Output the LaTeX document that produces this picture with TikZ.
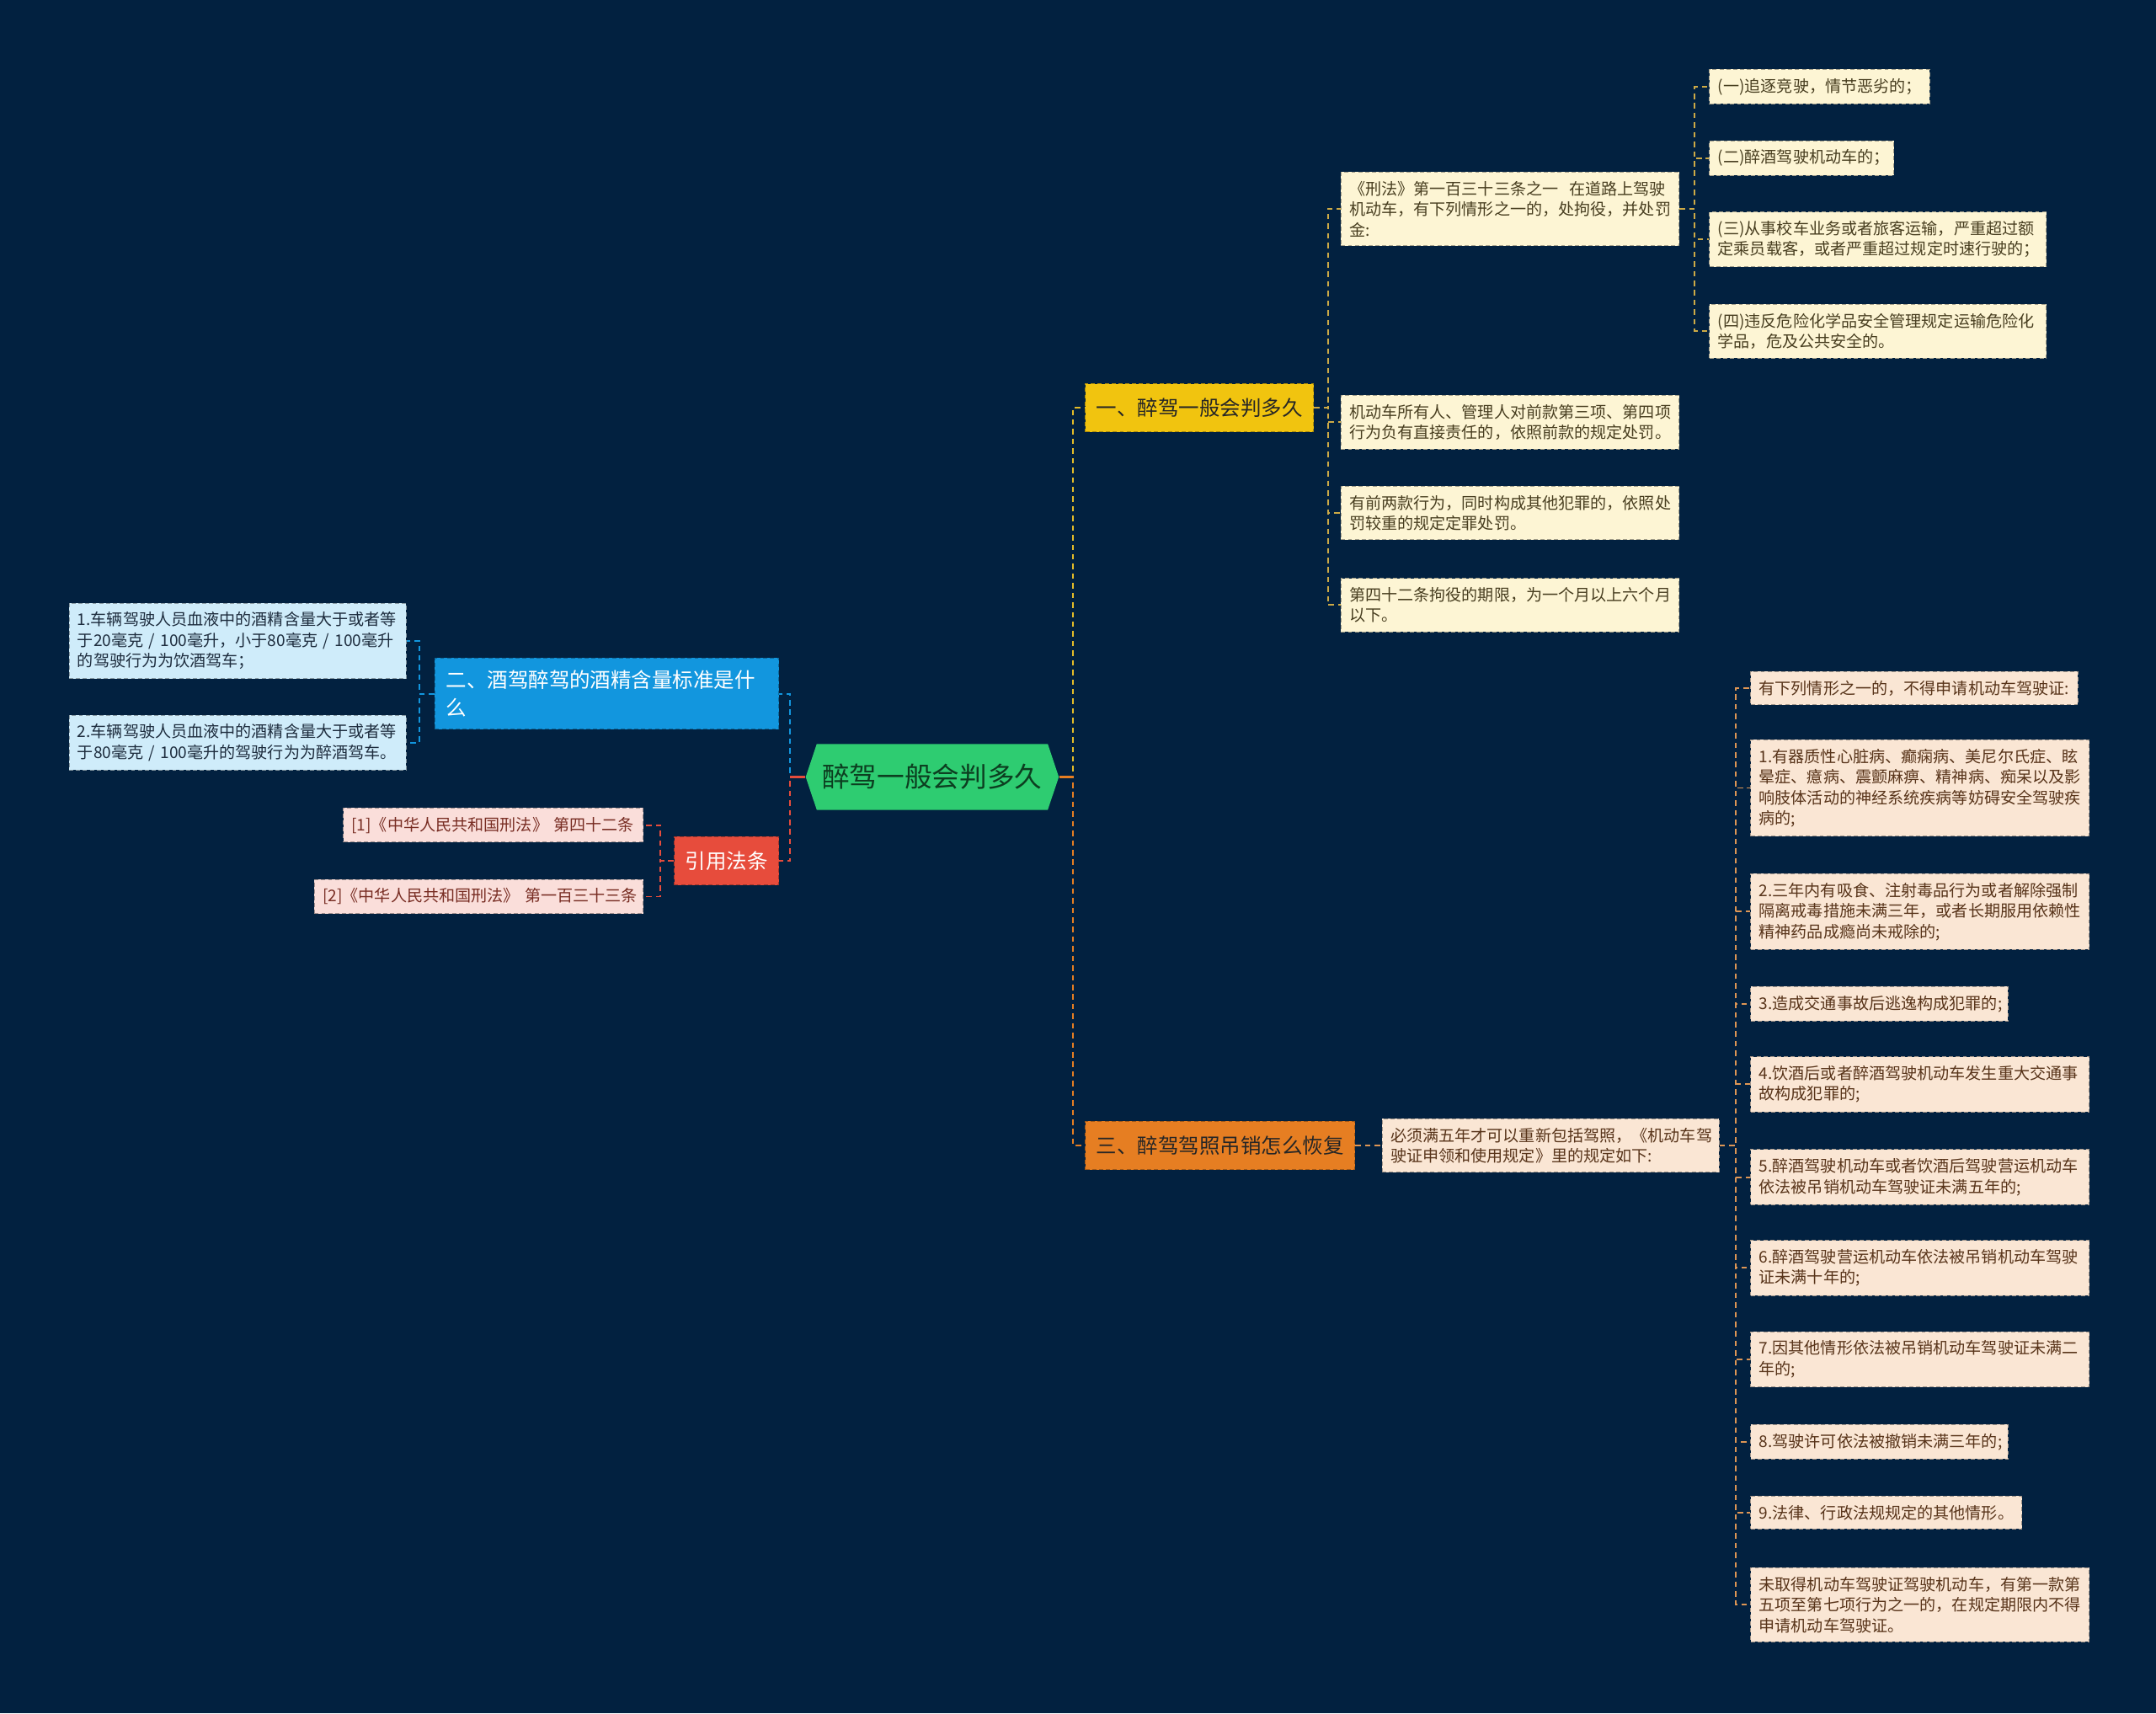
\documentclass[tikz,border=0pt]{standalone}
\usepackage{fontspec}
\setmainfont{Noto Sans CJK SC}
\usetikzlibrary{shapes.symbols}
\definecolor{bgNavy}{RGB}{2,33,64}
\definecolor{rootGreen}{RGB}{46,204,113}
\definecolor{rootText}{RGB}{12,62,32}
\definecolor{topYel}{RGB}{241,196,15}
\definecolor{topBlue}{RGB}{18,150,222}
\definecolor{topRed}{RGB}{231,76,60}
\definecolor{topOrg}{RGB}{230,126,34}
\definecolor{leafCream}{RGB}{253,245,212}
\definecolor{leafBlue}{RGB}{207,236,250}
\definecolor{leafPink}{RGB}{250,222,218}
\definecolor{leafPeach}{RGB}{250,230,212}
\definecolor{txtCream}{RGB}{72,62,32}
\definecolor{txtBlue}{RGB}{30,45,62}
\definecolor{txtPink}{RGB}{120,45,35}
\definecolor{txtPeach}{RGB}{88,52,26}
\definecolor{lnYel}{RGB}{228,188,40}
\definecolor{lnCream}{RGB}{205,170,70}
\definecolor{lnPeach}{RGB}{222,150,85}

\begin{document}
\begin{tikzpicture}[
  x=1pt, y=-1pt,
  leaf/.style={
    rectangle, draw=#1!65!black, fill=#1,
    dash pattern=on 3pt off 2pt, line width=0.6pt,
    inner xsep=6pt, inner ysep=6.5pt,
    font=\fontsize{11.7}{15}\selectfont, align=left, anchor=west
  },
  topic/.style={
    rectangle, draw=#1!70!black, fill=#1,
    dash pattern=on 3pt off 2pt, line width=0.7pt,
    inner xsep=8pt, inner ysep=9pt, minimum height=35pt,
    font=\fontsize{15}{20}\selectfont, align=left, anchor=west
  },
  link/.style={draw=#1, dash pattern=on 4pt off 3pt, line width=1.2pt},
  stub/.style={draw=#1, line width=1.5pt}
]
  \fill[bgNavy] (0,0) rectangle (1568,1246);

  % centre
  \node[shape=signal, signal to=west and east, signal pointer angle=143,
        fill=rootGreen, text=rootText, minimum width=180pt, minimum height=48pt,
        inner xsep=4pt, font=\fontsize{20}{24}\selectfont] (root) at (678,565) {醉驾一般会判多久};

  % topics
  \node[topic=topYel, text=black!85] (t1) at (789,296.5) {一、醉驾一般会判多久};
  \node[topic=topBlue, text=white, text width=234pt] (t2) at (316,504.5)
    {二、酒驾醉驾的酒精含量标准是什\\么};
  \node[topic=topRed, text=white] (t3) at (490,626) {引用法条};
  \node[topic=topOrg, text=black!85] (t4) at (789,833) {三、醉驾驾照吊销怎么恢复};

  % branch one
  \node[leaf=leafCream, text=txtCream, text width=234pt] (a1) at (975,152)
    {《刑法》第一百三十三条之一~~在道路上驾驶\\机动车，有下列情形之一的，处拘役，并处罚\\金:};
  \node[leaf=leafCream, text=txtCream, text width=234pt] (a2) at (975,307)
    {机动车所有人、管理人对前款第三项、第四项\\行为负有直接责任的，依照前款的规定处罚。};
  \node[leaf=leafCream, text=txtCream, text width=234pt] (a3) at (975,373)
    {有前两款行为，同时构成其他犯罪的，依照处\\罚较重的规定定罪处罚。};
  \node[leaf=leafCream, text=txtCream, text width=234pt] (a4) at (975,440)
    {第四十二条拘役的期限，为一个月以上六个月\\以下。};

  \node[leaf=leafCream, text=txtCream, text width=148pt] (s1) at (1243,63) {(一)追逐竞驶，情节恶劣的；};
  \node[leaf=leafCream, text=txtCream, text width=122pt] (s2) at (1243,115) {(二)醉酒驾驶机动车的；};
  \node[leaf=leafCream, text=txtCream, text width=233pt] (s3) at (1243,174)
    {(三)从事校车业务或者旅客运输，严重超过额\\定乘员载客，或者严重超过规定时速行驶的；};
  \node[leaf=leafCream, text=txtCream, text width=233pt] (s4) at (1243,241)
    {(四)违反危险化学品安全管理规定运输危险化\\学品，危及公共安全的。};

  % branch two
  \node[leaf=leafBlue, text=txtBlue, text width=233pt] (b1) at (50,466)
    {1.车辆驾驶人员血液中的酒精含量大于或者等\\于20毫克 / 100毫升，小于80毫克 / 100毫升\\的驾驶行为为饮酒驾车；};
  \node[leaf=leafBlue, text=txtBlue, text width=233pt] (b2) at (50,540)
    {2.车辆驾驶人员血液中的酒精含量大于或者等\\于80毫克 / 100毫升的驾驶行为为醉酒驾车。};

  % references
  \node[leaf=leafPink, text=txtPink, text width=206pt, anchor=east] (r1) at (468,600) {[1]《中华人民共和国刑法》~第四十二条};
  \node[leaf=leafPink, text=txtPink, text width=227pt, anchor=east] (r2) at (468,652) {[2]《中华人民共和国刑法》~第一百三十三条};

  % branch three
  \node[leaf=leafPeach, text=txtPeach, text width=233pt] (c0) at (1005,833)
    {必须满五年才可以重新包括驾照，《机动车驾\\驶证申领和使用规定》里的规定如下:};

  \node[leaf=leafPeach, text=txtPeach, text width=226pt] (d0) at (1273,500.5) {有下列情形之一的，不得申请机动车驾驶证:};
  \node[leaf=leafPeach, text=txtPeach, text width=234pt] (d1) at (1273,573)
    {1.有器质性心脏病、癫痫病、美尼尔氏症、眩\\晕症、癔病、震颤麻痹、精神病、痴呆以及影\\响肢体活动的神经系统疾病等妨碍安全驾驶疾\\病的;};
  \node[leaf=leafPeach, text=txtPeach, text width=234pt] (d2) at (1273,663)
    {2.三年内有吸食、注射毒品行为或者解除强制\\隔离戒毒措施未满三年，或者长期服用依赖性\\精神药品成瘾尚未戒除的;};
  \node[leaf=leafPeach, text=txtPeach, text width=175pt] (d3) at (1273,730) {3.造成交通事故后逃逸构成犯罪的;};
  \node[leaf=leafPeach, text=txtPeach, text width=234pt] (d4) at (1273,788.5)
    {4.饮酒后或者醉酒驾驶机动车发生重大交通事\\故构成犯罪的;};
  \node[leaf=leafPeach, text=txtPeach, text width=234pt] (d5) at (1273,856)
    {5.醉酒驾驶机动车或者饮酒后驾驶营运机动车\\依法被吊销机动车驾驶证未满五年的;};
  \node[leaf=leafPeach, text=txtPeach, text width=234pt] (d6) at (1273,922)
    {6.醉酒驾驶营运机动车依法被吊销机动车驾驶\\证未满十年的;};
  \node[leaf=leafPeach, text=txtPeach, text width=234pt] (d7) at (1273,988.5)
    {7.因其他情形依法被吊销机动车驾驶证未满二\\年的;};
  \node[leaf=leafPeach, text=txtPeach, text width=175pt] (d8) at (1273,1048.5) {8.驾驶许可依法被撤销未满三年的;};
  \node[leaf=leafPeach, text=txtPeach, text width=185pt] (d9) at (1273,1100) {9.法律、行政法规规定的其他情形。};
  \node[leaf=leafPeach, text=txtPeach, text width=234pt] (d10) at (1273,1167)
    {未取得机动车驾驶证驾驶机动车，有第一款第\\五项至第七项行为之一的，在规定期限内不得\\申请机动车驾驶证。};

  % connectors
  \draw[link=lnYel] (root.east) -- ++(10,0) |- (t1.west);
  \draw[link=topOrg] (root.east) -- ++(10,0) |- (t4.west);
  \draw[link=topBlue] (root.west) -- ++(-11,0) |- (t2.east);
  \draw[link=topRed] (root.west) -- ++(-11,0) |- (t3.east);
  \draw[stub=topOrg] (root.east) -- ++(10,0);
  \draw[stub=topRed] (root.west) -- ++(-11,0);

  \foreach \c in {a1,a2,a3,a4}
    \draw[link=lnCream] (t1.east) -- ++(10,0) |- (\c.west);
  \foreach \c in {s1,s2,s3,s4}
    \draw[link=lnCream] (a1.east) -- ++(11,0) |- (\c.west);
  \foreach \c in {b1,b2}
    \draw[link=topBlue] (t2.west) -- ++(-11,0) |- (\c.east);
  \foreach \c in {r1,r2}
    \draw[link=topRed] (t3.west) -- ++(-10,0) |- (\c.east);
  \draw[link=lnPeach] (t4.east) -- (c0.west);
  \foreach \c in {d0,d1,d2,d3,d4,d5,d6,d7,d8,d9,d10}
    \draw[link=lnPeach] (c0.east) -- ++(12,0) |- (\c.west);
\end{tikzpicture}
\end{document}
